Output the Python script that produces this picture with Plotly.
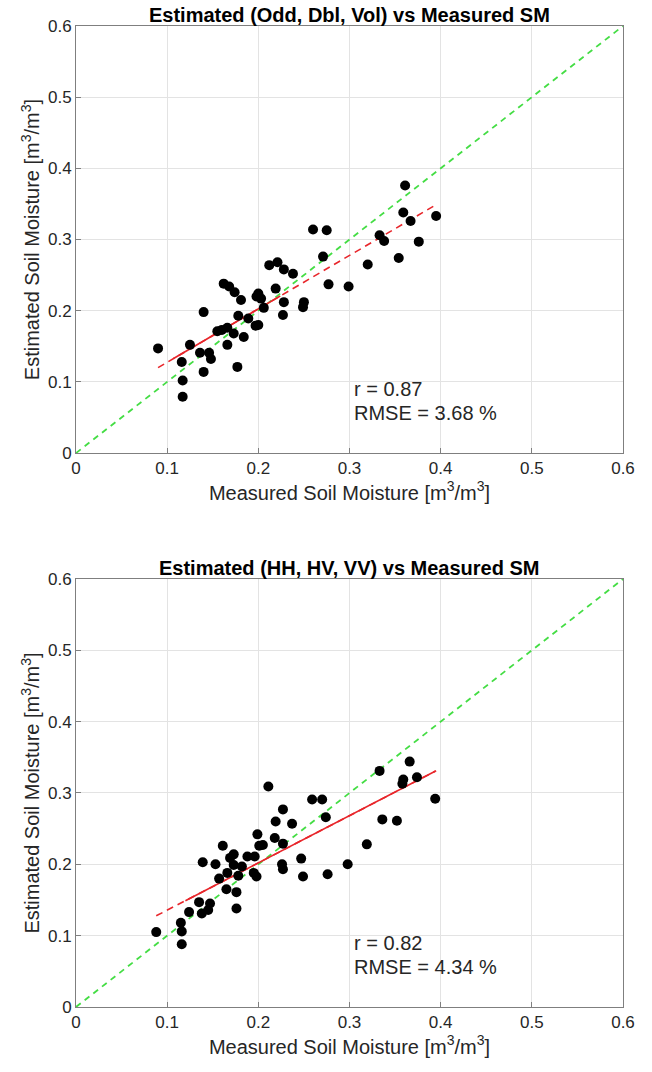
import numpy as np
import plotly.graph_objects as go

# Measured vs estimated soil moisture, decomposition-based model (Odd, Dbl, Vol)
meas_pol = [0.090, 0.117, 0.117, 0.116, 0.125, 0.136, 0.140, 0.140, 0.146, 0.148,
            0.155, 0.160, 0.166, 0.166, 0.173, 0.177, 0.178, 0.184, 0.162, 0.168,
            0.174, 0.181, 0.189, 0.197, 0.200, 0.198, 0.200, 0.203, 0.206, 0.212,
            0.221, 0.228, 0.219, 0.228, 0.227, 0.238, 0.250, 0.249, 0.260, 0.275,
            0.271, 0.277, 0.299, 0.320, 0.333, 0.338, 0.354, 0.359, 0.361, 0.367,
            0.376, 0.395]
est_pol = [0.147, 0.079, 0.102, 0.128, 0.152, 0.141, 0.198, 0.114, 0.141, 0.132,
           0.171, 0.173, 0.176, 0.152, 0.168, 0.121, 0.193, 0.163, 0.238, 0.234,
           0.226, 0.215, 0.189, 0.179, 0.180, 0.220, 0.224, 0.217, 0.204, 0.264,
           0.268, 0.258, 0.231, 0.212, 0.194, 0.252, 0.212, 0.205, 0.314, 0.313,
           0.276, 0.237, 0.234, 0.265, 0.306, 0.298, 0.274, 0.338, 0.376, 0.326,
           0.297, 0.333]

# Measured vs estimated soil moisture, backscatter-based model (HH, HV, VV)
meas_bs = [0.088, 0.116, 0.116, 0.115, 0.124, 0.135, 0.138, 0.145, 0.147, 0.139,
           0.153, 0.157, 0.165, 0.161, 0.166, 0.169, 0.173, 0.173, 0.178, 0.182,
           0.176, 0.176, 0.188, 0.196, 0.195, 0.198, 0.199, 0.201, 0.205, 0.211,
           0.219, 0.227, 0.218, 0.226, 0.227, 0.227, 0.237, 0.247, 0.249, 0.259,
           0.270, 0.274, 0.276, 0.298, 0.319, 0.333, 0.336, 0.352, 0.359, 0.358,
           0.366, 0.374, 0.394]
est_bs = [0.105, 0.088, 0.106, 0.118, 0.133, 0.147, 0.131, 0.136, 0.145, 0.203,
          0.200, 0.180, 0.165, 0.226, 0.188, 0.209, 0.214, 0.199, 0.184, 0.197,
          0.161, 0.138, 0.211, 0.211, 0.188, 0.183, 0.242, 0.226, 0.227, 0.309,
          0.260, 0.277, 0.237, 0.200, 0.193, 0.229, 0.257, 0.208, 0.183, 0.291,
          0.291, 0.266, 0.186, 0.200, 0.228, 0.331, 0.263, 0.261, 0.319, 0.313,
          0.344, 0.322, 0.292]

titles = ["Estimated (Odd, Dbl, Vol) vs Measured SM",
          "Estimated (HH, HV, VV) vs Measured SM"]
r_vals = ["0.87", "0.82"]
rmse_vals = ["3.68", "4.34"]
tick_vals = [0, 0.1, 0.2, 0.3, 0.4, 0.5, 0.6]
tick_text = ["0", "0.1", "0.2", "0.3", "0.4", "0.5", "0.6"]

# fitted-line segments drawn solid (rest of fit drawn dashed)
solid_spans = [(0.107, 0.224), (0.120, 0.395)]

FONT = "Liberation Sans, Arial, Helvetica, sans-serif"
TXT = "#262626"

fig = go.Figure()
panels = [(meas_pol, est_pol), (meas_bs, est_bs)]
axis_ids = [("x", "y"), ("x2", "y2")]

for i, ((mx, ey), (xa, ya)) in enumerate(zip(panels, axis_ids)):
    mx = np.array(mx)
    ey = np.array(ey)
    # 1:1 line
    fig.add_trace(go.Scatter(x=[0, 0.6], y=[0, 0.6], mode="lines",
                             line=dict(color="#44dd44", width=1.8, dash="6px,5px"),
                             xaxis=xa, yaxis=ya, showlegend=False, hoverinfo="skip"))
    # least-squares fit
    slope, icpt = np.polyfit(mx, ey, 1)
    xf = np.array([mx.min(), mx.max()])
    fig.add_trace(go.Scatter(x=xf, y=slope * xf + icpt, mode="lines",
                             line=dict(color="#e8262b", width=1.6, dash="7px,5px"),
                             xaxis=xa, yaxis=ya, showlegend=False, hoverinfo="skip"))
    s0, s1 = solid_spans[i]
    xs = np.array([s0, s1])
    fig.add_trace(go.Scatter(x=xs, y=slope * xs + icpt, mode="lines",
                             line=dict(color="#e8262b", width=1.6),
                             xaxis=xa, yaxis=ya, showlegend=False, hoverinfo="skip"))
    # samples
    fig.add_trace(go.Scatter(x=mx, y=ey, mode="markers",
                             marker=dict(color="black", size=10),
                             xaxis=xa, yaxis=ya, showlegend=False))
    # statistics
    fig.add_annotation(x=0.303, y=0.09, xref=xa, yref=ya, xanchor="left",
                       yanchor="middle", showarrow=False,
                       text=f"r = {r_vals[i]}", font=dict(size=20, color=TXT, family=FONT))
    fig.add_annotation(x=0.303, y=0.056, xref=xa, yref=ya, xanchor="left",
                       yanchor="middle", showarrow=False,
                       text=f"RMSE = {rmse_vals[i]} %", font=dict(size=20, color=TXT, family=FONT))

axis_common = dict(range=[0, 0.6], tickvals=tick_vals, ticktext=tick_text,
                   showgrid=True, gridcolor="#e3e3e3", gridwidth=1,
                   zeroline=False, showline=True, linecolor="#7f7f7f", linewidth=1,
                   mirror=True, ticks="inside", ticklen=5, tickcolor="#7f7f7f",
                   tickfont=dict(size=17, color=TXT, family=FONT))

xlabel = "Measured Soil Moisture [m<sup>3</sup>/m<sup>3</sup>]"
ylabel = "Estimated Soil Moisture [m<sup>3</sup>/m<sup>3</sup>]"

fig.update_layout(
    width=652, height=1072,
    margin=dict(l=76, r=29, t=26, b=65),
    plot_bgcolor="white", paper_bgcolor="white",
    font=dict(family=FONT, color=TXT),
    xaxis=dict(axis_common, domain=[0, 1], anchor="y",
               title=dict(text=xlabel, font=dict(size=20, color=TXT), standoff=0)),
    yaxis=dict(axis_common, domain=[0.5647, 1.0], anchor="x",
               title=dict(text=ylabel, font=dict(size=20, color=TXT), standoff=2)),
    xaxis2=dict(axis_common, domain=[0, 1], anchor="y2",
                title=dict(text=xlabel, font=dict(size=20, color=TXT), standoff=0)),
    yaxis2=dict(axis_common, domain=[0.0, 0.4363], anchor="x2",
                title=dict(text=ylabel, font=dict(size=20, color=TXT), standoff=2)),
)

# panel titles
for i, ya_dom in enumerate([1.0, 0.4363]):
    fig.add_annotation(x=0.5, y=ya_dom, xref="paper", yref="paper",
                       xanchor="center", yanchor="bottom", yshift=-2, showarrow=False,
                       text=f"<b>{titles[i]}</b>",
                       font=dict(size=20, color="black", family=FONT))

fig.write_html("out.html")
